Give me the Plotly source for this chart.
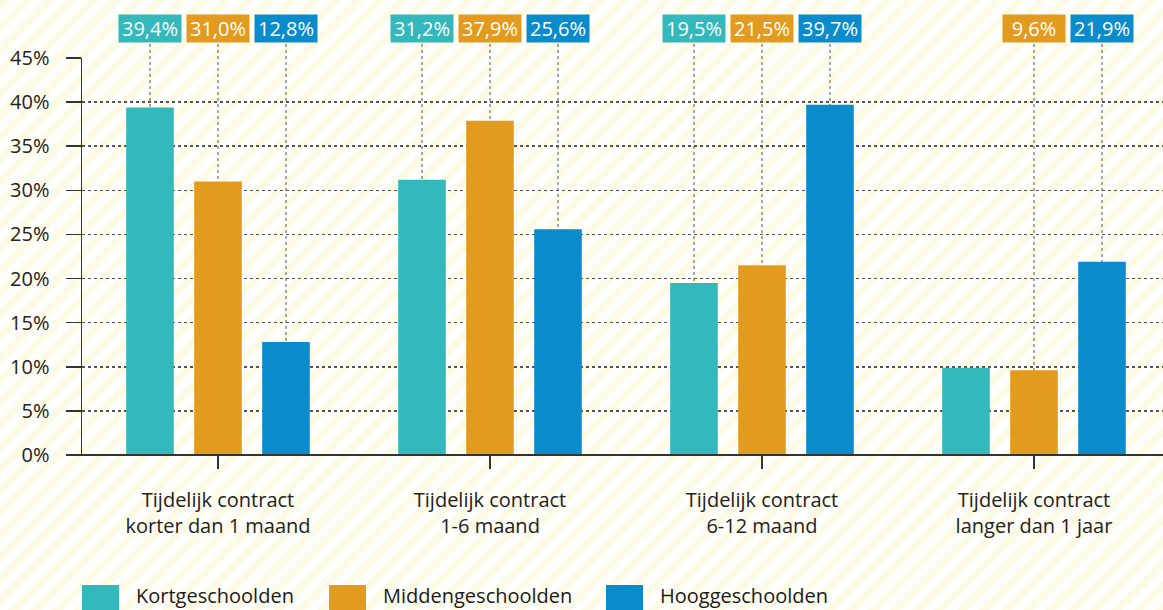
import base64
import plotly.graph_objects as go

# ---------------- data ----------------
categories = [
    "Tijdelijk contract<br>korter dan 1 maand",
    "Tijdelijk contract<br>1-6 maand",
    "Tijdelijk contract<br>6-12 maand",
    "Tijdelijk contract<br>langer dan 1 jaar",
]
series_names = ["Kortgeschoolden", "Middengeschoolden", "Hooggeschoolden"]
kort = [39.4, 31.2, 19.5, 9.9]
midden = [31.0, 37.9, 21.5, 9.6]
hoog = [12.8, 25.6, 39.7, 21.9]
# labels shown above the chart (None = not shown)
kort_labels = ["39,4%", "31,2%", "19,5%", None]
midden_labels = ["31,0%", "37,9%", "21,5%", "9,6%"]
hoog_labels = ["12,8%", "25,6%", "39,7%", "21,9%"]
y_ticks = [0, 5, 10, 15, 20, 25, 30, 35, 40, 45]
y_ticktext = ["0%", "5%", "10%", "15%", "20%", "25%", "30%", "35%", "40%", "45%"]

colors = ["#33b8bc", "#e39b1f", "#0a8bcc"]
values = [kort, midden, hoog]
labels = [kort_labels, midden_labels, hoog_labels]

# ---------------- layout geometry ----------------
W, H = 1163, 610
ML, MR, MT, MB = 82, 0, 58, 155
PW, PH = W - ML - MR, H - MT - MB
FONT = "Open Sans"
BARGAP, BARGROUPGAP = 0.25, 0.3
slot = (1 - BARGAP) / len(series_names)
GROUP_PX = 272.0

def px_x(px):
    return (px - ML) / PW

def px_y(py):
    return (H - MB - py) / PH

fig = go.Figure()
for name, vals, col in zip(series_names, values, colors):
    fig.add_trace(go.Bar(
        x=list(range(len(categories))), y=vals, name=name,
        marker=dict(color=col, line=dict(width=0)),
        showlegend=False, hoverinfo="skip",
    ))

shapes = []
annotations = []

# labels + dotted connector lines
for j, (labs, col) in enumerate(zip(labels, colors)):
    for i, lab in enumerate(labs):
        if lab is None:
            continue
        xc = i + (j - 1) * slot
        shapes.append(dict(type="line", xref="x", yref="paper", x0=xc, x1=xc,
                           y0=0, y1=px_y(41), layer="below",
                           line=dict(color="#8a8a8a", width=1.5, dash="dot")))
        annotations.append(dict(x=xc, xref="x", y=px_y(28), yref="paper",
                                text=lab, showarrow=False, bgcolor=col,
                                font=dict(family=FONT, size=20, color="white"),
                                width=56, height=21, borderpad=3,
                                xanchor="center", yanchor="middle"))

# baseline extending left under y ticks
shapes.append(dict(type="line", xref="paper", yref="paper", x0=px_x(67), x1=1.0,
                   y0=0, y1=0, line=dict(color="#333333", width=2)))

# custom legend
leg_x = [82, 329, 606]
for name, col, lx in zip(series_names, colors, leg_x):
    shapes.append(dict(type="rect", xref="paper", yref="paper",
                       x0=px_x(lx), x1=px_x(lx + 37), y0=px_y(585), y1=px_y(623),
                       fillcolor=col, line=dict(width=0)))
    annotations.append(dict(x=px_x(lx + 52), y=px_y(595), xref="paper", yref="paper",
                            text=name, showarrow=False, xanchor="left", yanchor="middle",
                            font=dict(family=FONT, size=20, color="#1a1a1a")))

# striped background
svg = f'''<svg xmlns="http://www.w3.org/2000/svg" width="{W}" height="{H}">
<defs><pattern id="p" width="15.6" height="15.6" patternUnits="userSpaceOnUse" patternTransform="rotate(45)">
<rect width="15.6" height="15.6" fill="#ffffff"/><rect width="7.8" height="15.6" fill="#fdfae6"/></pattern></defs>
<rect width="{W}" height="{H}" fill="url(#p)"/></svg>'''
uri = "data:image/svg+xml;base64," + base64.b64encode(svg.encode()).decode()

fig.update_layout(
    width=W, height=H,
    margin=dict(l=ML, r=MR, t=MT, b=MB),
    paper_bgcolor="white", plot_bgcolor="rgba(0,0,0,0)",
    barmode="group", bargap=BARGAP, bargroupgap=BARGROUPGAP,
    showlegend=False,
    font=dict(family=FONT, size=19, color="#222222"),
    images=[dict(source=uri, xref="paper", yref="paper",
                 x=px_x(0), y=px_y(0), sizex=W / PW, sizey=H / PH,
                 xanchor="left", yanchor="top", sizing="stretch", layer="below")],
    shapes=shapes, annotations=annotations,
    xaxis=dict(
        range=[-0.5, -0.5 + PW / GROUP_PX],
        tickmode="array", tickvals=list(range(len(categories))), ticktext=categories,
        ticks="outside", ticklen=13, tickwidth=1.5, tickcolor="#333333",
        showline=False, showgrid=False, zeroline=False,
        tickfont=dict(family=FONT, size=20, color="#222222"),
        ticklabelstandoff=14,
    ),
    yaxis=dict(
        range=[0, 45], tickvals=y_ticks, ticktext=y_ticktext,
        ticks="outside", ticklen=15, tickwidth=1.5, tickcolor="#333333",
        showline=True, linecolor="#333333", linewidth=1.5,
        showgrid=True, gridcolor="#555555", gridwidth=1.5, griddash="dot",
        zeroline=False,
        tickfont=dict(family=FONT, size=20, color="#222222"),
        ticklabelstandoff=12,
    ),
)

fig.write_html("out.html", config={"displayModeBar": False, "staticPlot": True},
               post_script="document.body.style.margin='0';document.body.style.overflow='hidden';")
